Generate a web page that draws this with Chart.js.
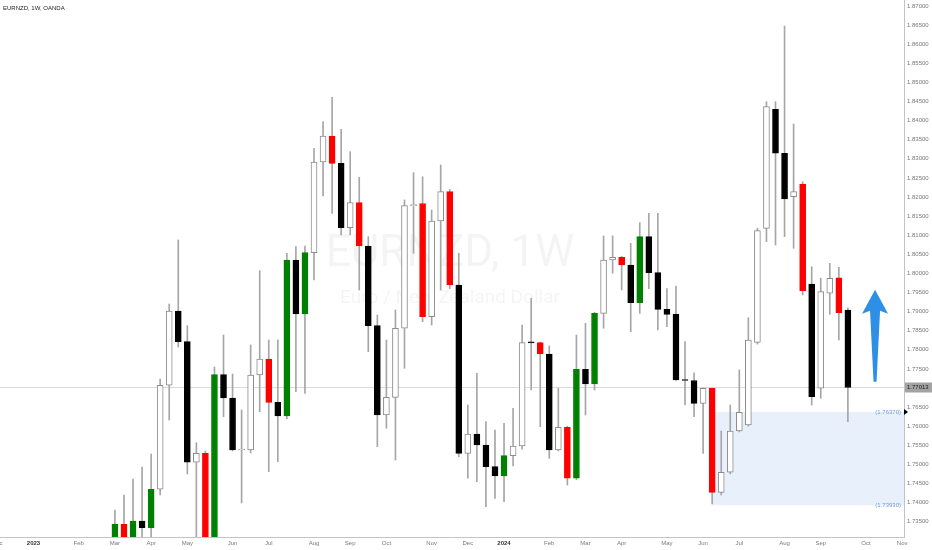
<!DOCTYPE html>
<html>
<head>
<meta charset="utf-8">
<script src="https://cdn.jsdelivr.net/npm/chart.js@4"></script>
<style>
  html, body { margin: 0; padding: 0; background: #fff; }
  #wrap { width: 932px; height: 550px; }
</style>
</head>
<body>
<div id="wrap"><canvas id="chart" width="932" height="550"></canvas></div>
<script>
// EURNZD weekly candles, first one is the week of 6 Mar 2023 (index 0)
const open = [1.7300, 1.73432, 1.7300, 1.73518, 1.73343, 1.74348, 1.77071, 1.79016, 1.78212, 1.75055,
  1.75290, 1.7290, 1.77348, 1.76738, 1.75377, 1.75377, 1.77340, 1.77759, 1.76625, 1.76267,
  1.80351, 1.78937, 1.80542, 1.82916, 1.83597, 1.82882, 1.81196, 1.81851, 1.80717, 1.78631,
  1.76293, 1.76756, 1.78563, 1.81772, 1.81830, 1.78866, 1.81372, 1.82139, 1.79696, 1.75290,
  1.75796, 1.75508, 1.74940, 1.74696, 1.75228, 1.75482, 1.78186, 1.78186, 1.77890, 1.75377,
  1.75971, 1.74636, 1.77489, 1.77105, 1.78955, 1.80351, 1.80421, 1.80220, 1.79233, 1.80961,
  1.80018, 1.79060, 1.78929, 1.77209, 1.77196, 1.76599, 1.76992, 1.74269, 1.74793, 1.75874,
  1.76031, 1.78196, 1.81180, 1.84296, 1.83144, 1.82008, 1.82340, 1.79722, 1.76992, 1.79479,
  1.79887, 1.79042];
const high = [1.73806, 1.74199, 1.74618, 1.74932, 1.75272, 1.77236, 1.79199, 1.80874, 1.78631, 1.75568,
  1.75351, 1.77550, 1.78387, 1.77366, 1.76424, 1.78126, 1.80071, 1.78256, 1.78256, 1.80526,
  1.80699, 1.80717, 1.83275, 1.83971, 1.84610, 1.83772, 1.83186, 1.82516, 1.80961, 1.78911,
  1.78256, 1.79042, 1.81921, 1.82636, 1.82531, 1.81660, 1.82838, 1.82200, 1.80526, 1.76555,
  1.77385, 1.76118, 1.75900, 1.76076, 1.76468, 1.78649, 1.79348, 1.78200, 1.78100, 1.76992,
  1.76000, 1.78387, 1.78694, 1.78980, 1.80979, 1.80979, 1.80450, 1.80788, 1.81327, 1.81573,
  1.81573, 1.79600, 1.79670, 1.78212, 1.77400, 1.77000, 1.77000, 1.75874, 1.76555, 1.77471,
  1.78840, 1.81180, 1.84495, 1.84495, 1.86476, 1.83911, 1.82400, 1.80175, 1.79872, 1.80264,
  1.80160, 1.79100];
const low = [1.7295, 1.7290, 1.7290, 1.7305, 1.7305, 1.7420, 1.76162, 1.78073, 1.74749, 1.7300,
  1.7280, 1.7280, 1.76249, 1.7535, 1.73989, 1.7530, 1.76379, 1.74809, 1.75071, 1.7620,
  1.76903, 1.76861, 1.79827, 1.82026, 1.81573, 1.81005, 1.81005, 1.79565, 1.77950, 1.75463,
  1.75945, 1.75115, 1.77516, 1.80526, 1.78736, 1.78649, 1.79565, 1.79600, 1.75201, 1.74636,
  1.74547, 1.73892, 1.74112, 1.74024, 1.74958, 1.7540, 1.76948, 1.75987, 1.75159, 1.7535,
  1.74461, 1.7460, 1.76293, 1.76948, 1.78563, 1.80003, 1.79565, 1.78474, 1.78955, 1.7960,
  1.78518, 1.78605, 1.77200, 1.76555, 1.76249, 1.75290, 1.73963, 1.74200, 1.7475, 1.7585,
  1.7600, 1.7815, 1.80830, 1.80743, 1.80961, 1.80657, 1.79434, 1.76555, 1.76730, 1.78929,
  1.78256, 1.76118];
const close = [1.73432, 1.7300, 1.73518, 1.73343, 1.74348, 1.77071, 1.79016, 1.78212, 1.75055, 1.75290,
  1.7290, 1.77348, 1.76738, 1.75377, 1.75390, 1.77340, 1.77759, 1.76625, 1.76267, 1.80351,
  1.78937, 1.80542, 1.82916, 1.83597, 1.82882, 1.81196, 1.81851, 1.80717, 1.78631, 1.76293,
  1.76756, 1.78563, 1.81772, 1.81772, 1.78866, 1.81372, 1.82139, 1.79696, 1.75290, 1.75796,
  1.75508, 1.74940, 1.74696, 1.75228, 1.75482, 1.78186, 1.78180, 1.77890, 1.75377, 1.75971,
  1.74636, 1.77489, 1.77105, 1.78955, 1.80351, 1.80421, 1.80220, 1.79233, 1.80961, 1.80018,
  1.79060, 1.78929, 1.77209, 1.77196, 1.76599, 1.76992, 1.74269, 1.74793, 1.75874, 1.76364,
  1.78256, 1.81118, 1.84364, 1.83144, 1.81948, 1.82139, 1.79547, 1.76772, 1.79521, 1.79872,
  1.78971, 1.77013];
// body colour key: g green, r red, b black, w hollow
const tone = ['g','r','g','b','g','w','w','b','b','w',
  'r','g','b','b','w','w','w','r','b','g',
  'b','g','w','w','r','b','w','r','b','b',
  'w','w','w','w','r','w','w','r','b','w',
  'b','b','b','g','w','w','b','r','b','w',
  'r','g','b','g','w','w','r','b','g','b',
  'b','b','b','b','b','w','r','w','w','w',
  'w','w','w','b','b','w','r','b','w','w',
  'r','b'];

// x axis labels (week index relative to 6 Mar 2023)
const tickWeek = [-13, -9, -4, 0, 4, 8, 13, 17, 22, 26, 30, 35, 39, 43, 48, 52, 56, 61, 65, 69, 74, 78, 83, 87];
const tickText = ['Dec','2023','Feb','Mar','Apr','May','Jun','Jul','Aug','Sep','Oct','Nov',
  'Dec','2024','Feb','Mar','Apr','May','Jun','Jul','Aug','Sep','Oct','Nov'];
const priceTicks = [1.735, 1.740, 1.745, 1.750, 1.755, 1.760, 1.765, 1.770, 1.775, 1.780,
  1.785, 1.790, 1.795, 1.800, 1.805, 1.810, 1.815, 1.820, 1.825, 1.830,
  1.835, 1.840, 1.845, 1.850, 1.855, 1.860, 1.865, 1.870];

// annotations
const lastPrice = 1.77013;
const zoneFrom = 66, zoneTop = 1.76370, zoneBottom = 1.73930;
const arrowWeek = 84, arrowTail = 1.7716, arrowTip = 1.7957;

const bodyFill = { g: '#008000', r: '#ff0000', b: '#000000', w: '#ffffff' };
const bodyLine = { g: '#008000', r: '#ff0000', b: '#000000', w: '#8c8c8c' };

const bodies = open.map((o, i) => ({ x: i, y: [o, close[i]] }));
const wicks = low.map((l, i) => ({ x: i, y: [l, high[i]] }));

const decor = {
  id: 'decor',
  beforeDatasetsDraw(chart) {
    const { ctx, chartArea: a, scales: { x, y } } = chart;
    ctx.save();
    // watermark
    ctx.fillStyle = 'rgba(0,0,0,0.045)';
    ctx.textAlign = 'center';
    ctx.textBaseline = 'alphabetic';
    ctx.font = '44px Roboto';
    ctx.fillText('EURNZD, 1W', 450, 266);
    ctx.font = '19px Roboto';
    ctx.fillText('Euro / New Zealand Dollar', 450, 303);
    // demand zone
    const zx = x.getPixelForValue(zoneFrom);
    const zt = y.getPixelForValue(zoneTop), zb = y.getPixelForValue(zoneBottom);
    ctx.fillStyle = 'rgba(33,120,220,0.11)';
    ctx.fillRect(zx, zt, a.right - zx, zb - zt);
    // last price line
    const py = Math.round(y.getPixelForValue(lastPrice)) + 0.5;
    ctx.strokeStyle = '#dadada';
    ctx.lineWidth = 1;
    ctx.beginPath();
    ctx.moveTo(a.left, py);
    ctx.lineTo(a.right, py);
    ctx.stroke();
    ctx.restore();
  },
  afterDatasetsDraw(chart) {
    const { ctx, scales: { x, y } } = chart;
    const ax = x.getPixelForValue(arrowWeek);
    const tipY = y.getPixelForValue(arrowTip), tailY = y.getPixelForValue(arrowTail);
    ctx.save();
    ctx.fillStyle = '#2d8fe6';
    ctx.beginPath();
    ctx.moveTo(ax, tipY);
    ctx.lineTo(ax + 13, tipY + 24);
    ctx.lineTo(ax + 5, tipY + 21);
    ctx.lineTo(ax + 1.5, tailY);
    ctx.lineTo(ax - 1.5, tailY);
    ctx.lineTo(ax - 5, tipY + 21);
    ctx.lineTo(ax - 13, tipY + 24);
    ctx.closePath();
    ctx.fill();
    ctx.restore();
  },
  afterDraw(chart) {
    const { ctx, chartArea: a, scales: { y } } = chart;
    ctx.save();
    ctx.font = '6px "Liberation Sans", sans-serif';
    ctx.textBaseline = 'middle';
    // title
    ctx.fillStyle = '#222';
    ctx.textAlign = 'left';
    ctx.fillText('EURNZD, 1W, OANDA', 3, 8);
    // zone labels
    ctx.fillStyle = '#6f9bd8';
    ctx.textAlign = 'right';
    ctx.fillText('(' + zoneTop.toFixed(5) + ')', a.right - 3, y.getPixelForValue(zoneTop));
    ctx.fillText('(' + zoneBottom.toFixed(5) + ')', a.right - 3, y.getPixelForValue(zoneBottom));
    // last price tag
    const py = y.getPixelForValue(lastPrice);
    ctx.fillStyle = '#a3a3a3';
    ctx.fillRect(a.right + 1, py - 5, 28, 10);
    ctx.fillStyle = '#1a1a1a';
    ctx.textAlign = 'left';
    ctx.fillText(lastPrice.toFixed(5), a.right + 3, py);
    // zone marker on the axis
    const my = y.getPixelForValue(zoneTop);
    ctx.fillStyle = '#000';
    ctx.beginPath();
    ctx.moveTo(a.right, my - 3);
    ctx.lineTo(a.right + 4, my);
    ctx.lineTo(a.right, my + 3);
    ctx.closePath();
    ctx.fill();
    ctx.restore();
  }
};

new Chart(document.getElementById('chart').getContext('2d'), {
  type: 'bar',
  data: {
    datasets: [
      {
        label: 'body',
        data: bodies,
        order: 0,
        grouped: false,
        barThickness: 6,
        minBarLength: 1,
        borderSkipped: false,
        borderWidth: 1,
        backgroundColor: tone.map(t => bodyFill[t]),
        borderColor: tone.map(t => bodyLine[t])
      },
      {
        label: 'wick',
        data: wicks,
        order: 1,
        grouped: false,
        barThickness: 1,
        borderWidth: 0,
        backgroundColor: '#a6a6a6'
      }
    ]
  },
  options: {
    responsive: false,
    animation: false,
    devicePixelRatio: 1,
    layout: { padding: 0 },
    plugins: { legend: { display: false }, tooltip: { enabled: false } },
    scales: {
      x: {
        type: 'linear',
        min: -12.7,
        max: 87.2,
        offset: false,
        grid: { display: false, offset: false, drawTicks: false, tickLength: 0 },
        border: { color: '#c4c4c4' },
        afterBuildTicks: s => { s.ticks = tickWeek.map(v => ({ value: v })); },
        afterFit: s => { s.height = 13; s.paddingLeft = 0; s.paddingRight = 0; },
        ticks: {
          autoSkip: false,
          maxRotation: 0,
          padding: 3,
          callback: v => tickText[tickWeek.indexOf(v)],
          font: c => {
            const t = tickText[tickWeek.indexOf(c.tick && c.tick.value)] || '';
            return { size: 6, family: '"Liberation Sans", sans-serif', weight: /^\d{4}$/.test(t) ? 'bold' : 'normal' };
          },
          color: c => {
            const t = tickText[tickWeek.indexOf(c.tick && c.tick.value)] || '';
            return /^\d{4}$/.test(t) ? '#333' : '#7a7a7a';
          }
        }
      },
      y: {
        position: 'right',
        min: 1.73099,
        max: 1.87157,
        grid: { display: false, drawTicks: false, tickLength: 0 },
        border: { color: '#c4c4c4' },
        afterBuildTicks: s => { s.ticks = priceTicks.map(v => ({ value: v })); },
        afterFit: s => { s.width = 28; s.paddingTop = 0; s.paddingBottom = 0; },
        ticks: {
          padding: 3,
          color: '#777',
          font: { size: 6, family: '"Liberation Sans", sans-serif' },
          callback: v => v.toFixed(5)
        }
      }
    }
  },
  plugins: [decor]
});
</script>
</body>
</html>
